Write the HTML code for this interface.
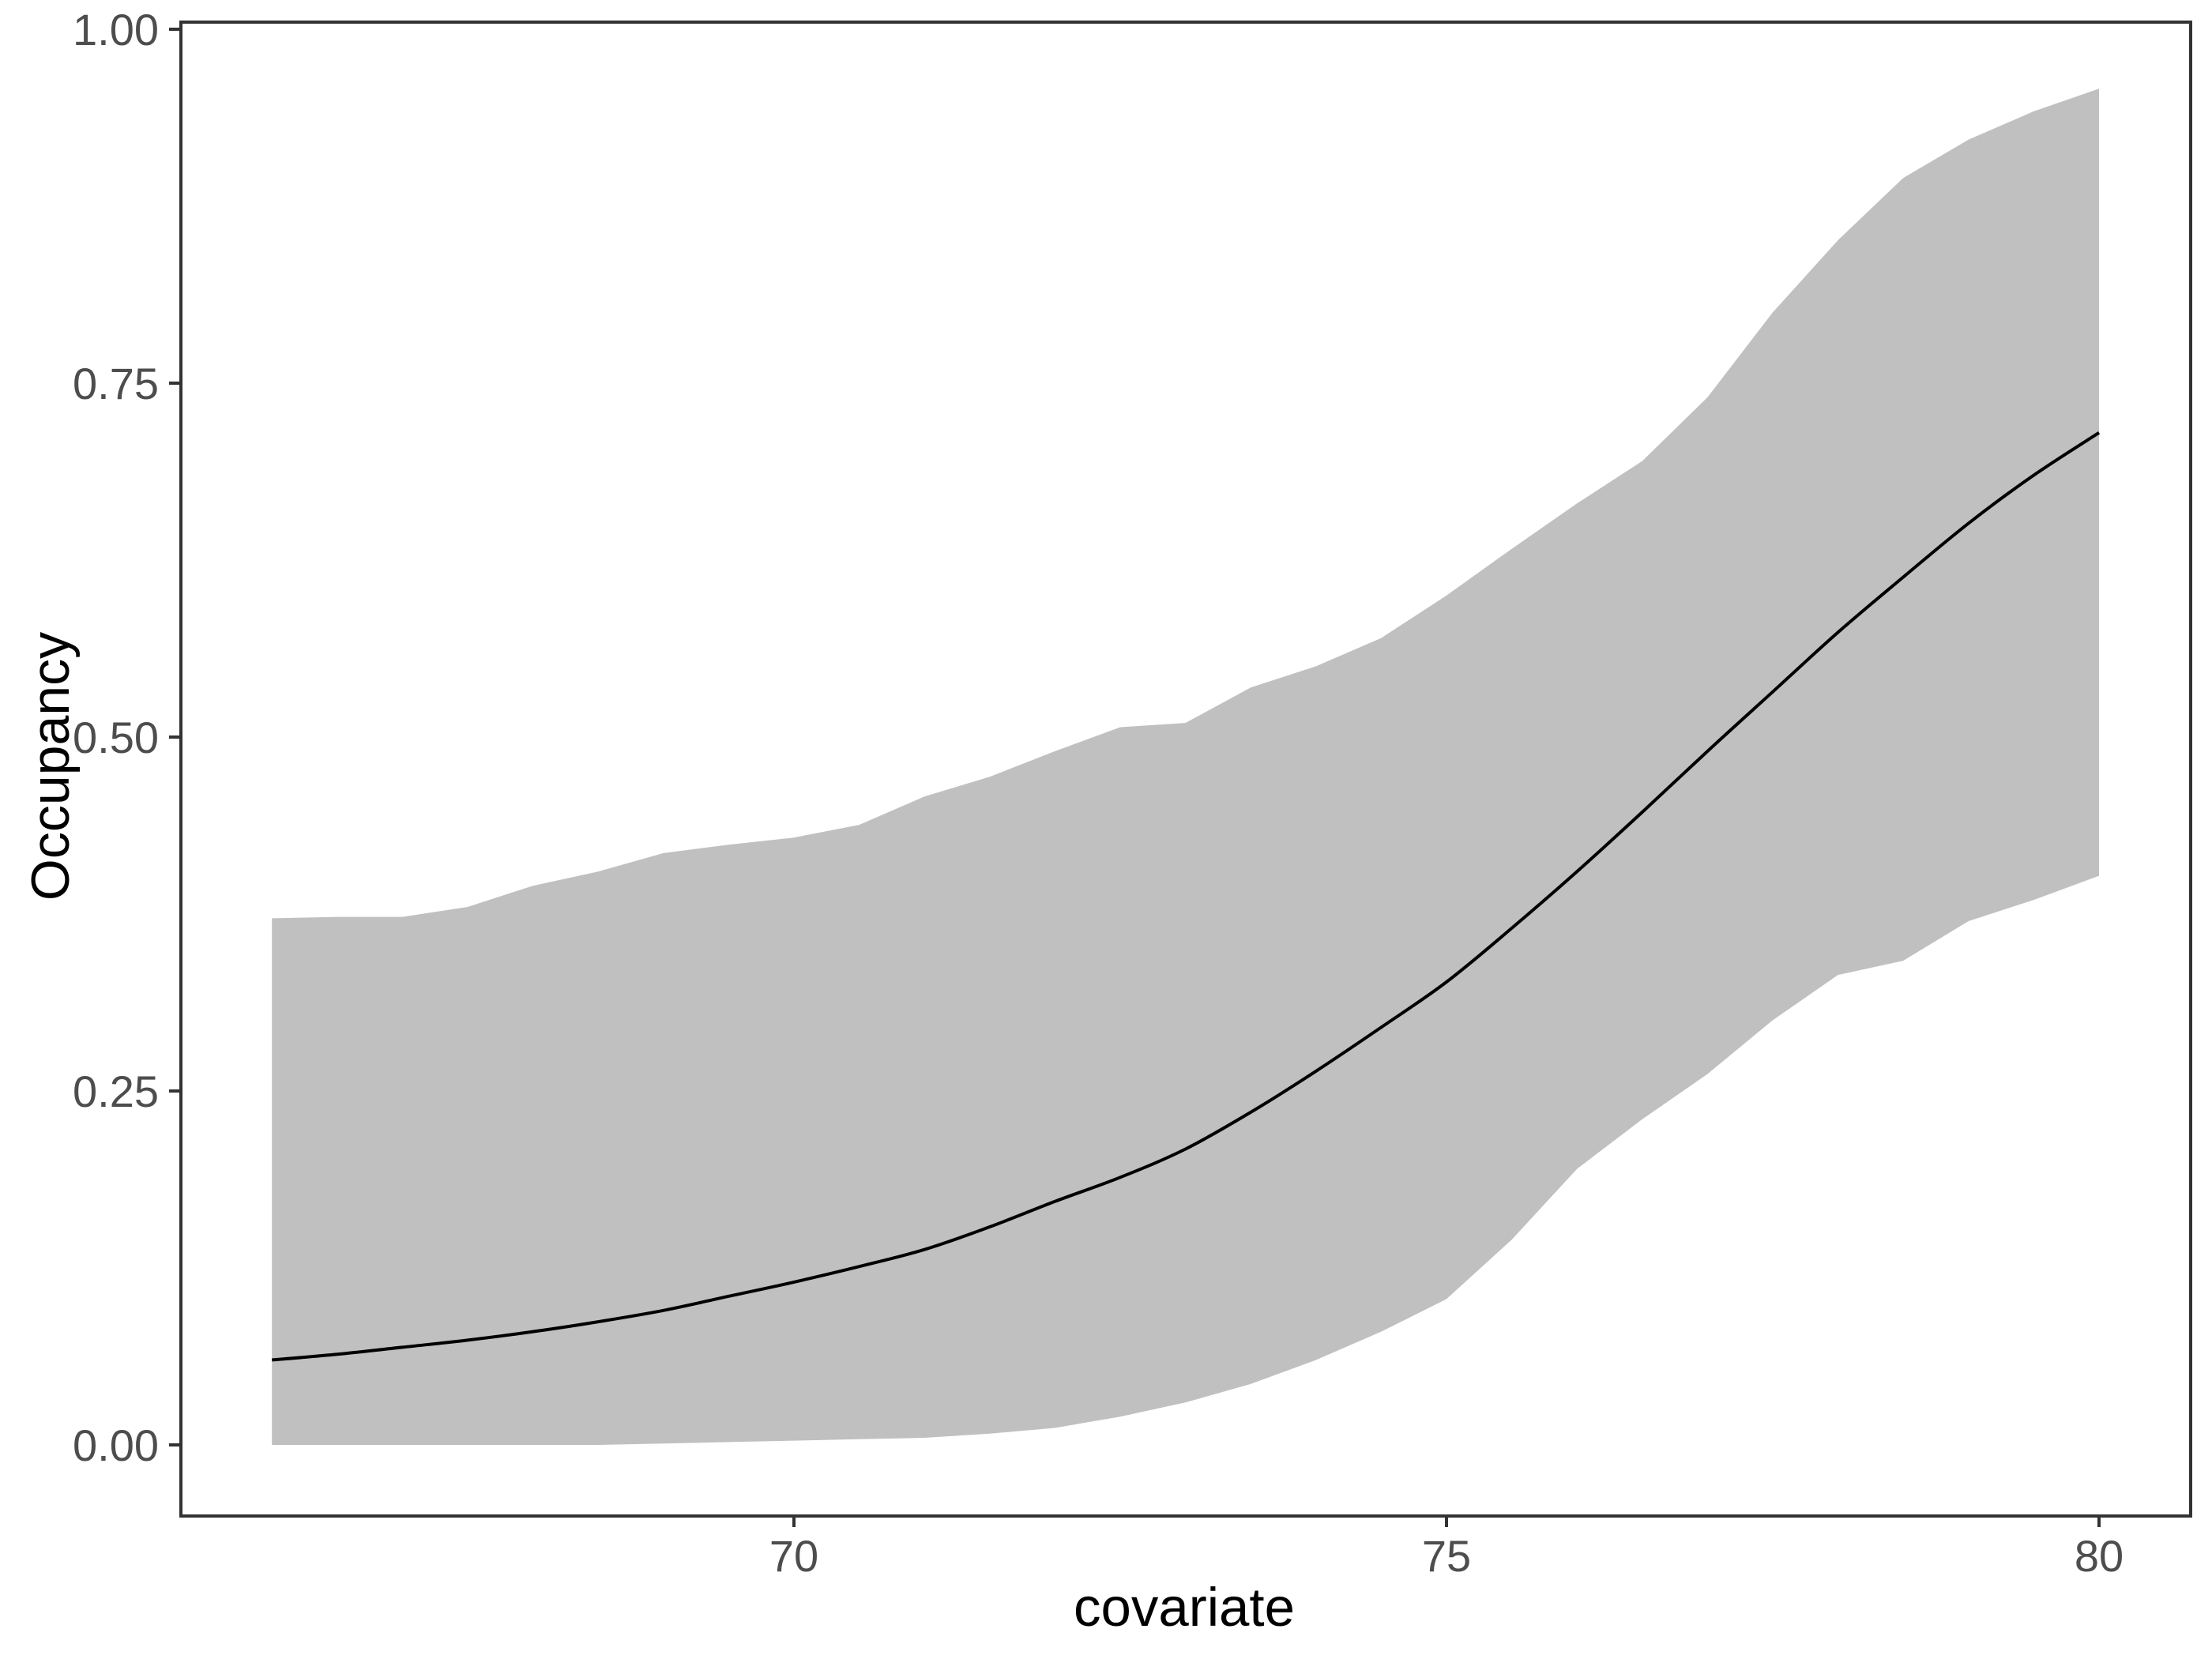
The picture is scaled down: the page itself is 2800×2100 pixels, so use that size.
<!DOCTYPE html>
<html><head><meta charset="utf-8"><style>
html,body{margin:0;padding:0;background:#fff;}
svg{display:block;}
text{font-family:"Liberation Sans",Arial,sans-serif;}
</style></head><body>
<svg id="chart" width="2800" height="2100" viewBox="0 0 2800 2100" xmlns="http://www.w3.org/2000/svg">
<rect x="0" y="0" width="2800" height="2100" fill="#fff"/>
<g id="plot"></g>
<rect x="229" y="28" width="2544" height="1891" fill="none" stroke="#333" stroke-width="4"/>
<g id="axes"></g>
<text x="1499" y="2058" font-size="69" text-anchor="middle" fill="#000">covariate</text>
<text x="0" y="0" font-size="68" text-anchor="middle" fill="#000" transform="translate(87,970) rotate(-90)">Occupancy</text>
</svg>
<script>
const covariate = [66,66.5,67,67.5,68,68.5,69,69.5,70,70.5,71,71.5,72,72.5,73,73.5,74,74.5,75,75.5,76,76.5,77,77.5,78,78.5,79,79.5,80];
const upper = [0.372,0.373,0.373,0.38,0.395,0.405,0.418,0.424,0.429,0.438,0.458,0.472,0.49,0.507,0.51,0.535,0.55,0.57,0.60,0.633,0.665,0.695,0.74,0.80,0.851,0.895,0.922,0.942,0.958];
const lower = [0,0,0,0,0,0,0.001,0.002,0.003,0.004,0.005,0.008,0.012,0.02,0.03,0.043,0.06,0.08,0.103,0.145,0.195,0.23,0.262,0.30,0.332,0.342,0.37,0.385,0.402];
const meanOcc = [0.060,0.064,0.069,0.074,0.080,0.087,0.095,0.105,0.115,0.126,0.138,0.154,0.172,0.189,0.209,0.235,0.264,0.295,0.327,0.365,0.405,0.447,0.49,0.532,0.574,0.613,0.651,0.685,0.715];
const xTicks = [70,75,80];
const yTicks = [0,0.25,0.5,0.75,1];
const yTickLabels = ["0.00","0.25","0.50","0.75","1.00"];

const NS = "http://www.w3.org/2000/svg";
function X(v){ return 1005 + (v-70)*165.2; }
function Y(v){ return 1829 - v*1792; }
const plot = document.getElementById('plot');
const axes = document.getElementById('axes');

let d = "";
covariate.forEach((c,i)=>{ d += (i?"L":"M") + X(c).toFixed(1) + "," + Y(upper[i]).toFixed(1); });
for(let i=covariate.length-1;i>=0;i--){ d += "L" + X(covariate[i]).toFixed(1) + "," + Y(lower[i]).toFixed(1); }
d += "Z";
const band = document.createElementNS(NS,'path');
band.setAttribute('d', d);
band.setAttribute('fill', '#c0c0c0');


plot.appendChild(band);

const pts = covariate.map((c,i)=>[X(c),Y(meanOcc[i])]);
let ld = "M" + pts[0][0] + "," + pts[0][1];
for(let i=0;i<pts.length-1;i++){
  const p0 = pts[Math.max(0,i-1)], p1 = pts[i], p2 = pts[i+1], p3 = pts[Math.min(pts.length-1,i+2)];
  const c1x = p1[0]+(p2[0]-p0[0])/6, c1y = p1[1]+(p2[1]-p0[1])/6;
  const c2x = p2[0]-(p3[0]-p1[0])/6, c2y = p2[1]-(p3[1]-p1[1])/6;
  ld += "C"+c1x.toFixed(1)+","+c1y.toFixed(1)+" "+c2x.toFixed(1)+","+c2y.toFixed(1)+" "+p2[0].toFixed(1)+","+p2[1].toFixed(1);
}
const line = document.createElementNS(NS,'path');
line.setAttribute('d', ld);
line.setAttribute('fill', 'none');
line.setAttribute('stroke', '#000');
line.setAttribute('stroke-width', '4');


plot.appendChild(line);

yTicks.forEach((v,i)=>{
  const t = document.createElementNS(NS,'line');
  t.setAttribute('x1', 214); t.setAttribute('x2', 229);
  t.setAttribute('y1', Y(v)); t.setAttribute('y2', Y(v));
  t.setAttribute('stroke', '#333'); t.setAttribute('stroke-width', '4');
  
  
  axes.appendChild(t);
  const lb = document.createElementNS(NS,'text');
  lb.setAttribute('x', 201); lb.setAttribute('y', Y(v)+20);
  lb.setAttribute('font-size', '56'); lb.setAttribute('fill', '#4d4d4d');
  lb.setAttribute('text-anchor', 'end');
  lb.textContent = yTickLabels[i];
  
  
  axes.appendChild(lb);
});
xTicks.forEach(v=>{
  const t = document.createElementNS(NS,'line');
  t.setAttribute('x1', X(v)); t.setAttribute('x2', X(v));
  t.setAttribute('y1', 1919); t.setAttribute('y2', 1933);
  t.setAttribute('stroke', '#333'); t.setAttribute('stroke-width', '4');
  
  
  axes.appendChild(t);
  const lb = document.createElementNS(NS,'text');
  lb.setAttribute('x', X(v)); lb.setAttribute('y', 1989);
  lb.setAttribute('font-size', '56'); lb.setAttribute('fill', '#4d4d4d');
  lb.setAttribute('text-anchor', 'middle');
  lb.textContent = String(v);
  
  
  axes.appendChild(lb);
});
</script>
</body></html>
